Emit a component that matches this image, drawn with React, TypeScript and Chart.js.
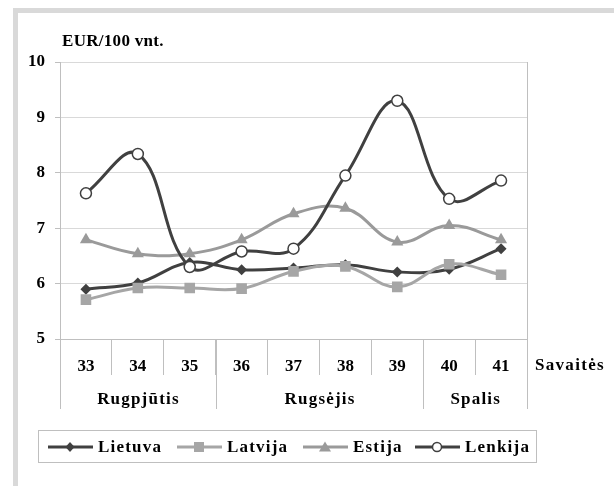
import React, { useEffect, useRef } from "react";
import { Chart, registerables } from "chart.js";

Chart.register(...registerables);

const weeks = ["33", "34", "35", "36", "37", "38", "39", "40", "41"];
const months = ["Rugpjūtis", "Rugsėjis", "Spalis"];
const monthSpans = [3, 4, 2];
const seriesNames = ["Lietuva", "Latvija", "Estija", "Lenkija"];
const lietuva = [5.9, 6.01, 6.38, 6.25, 6.28, 6.34, 6.21, 6.26, 6.63];
const latvija = [5.71, 5.92, 5.92, 5.91, 6.22, 6.31, 5.94, 6.35, 6.16];
const estija = [6.79, 6.54, 6.54, 6.79, 7.26, 7.36, 6.75, 7.05, 6.79];
const lenkija = [7.63, 8.34, 6.3, 6.58, 6.63, 7.95, 9.3, 7.53, 7.86];
const yTicks = [5, 6, 7, 8, 9, 10];
const yUnit = "EUR/100 vnt.";
const xUnit = "Savaitės";

const FONT = "'Liberation Serif', 'Times New Roman', serif";
const DARK = "#404040";
const LIGHT = "#a6a6a6";
const MID = "#9a9a9a";
const AXIS = "#bfbfbf";

const styles = [
  { color: DARK, style: "rectRot", radius: 5.5, fill: DARK },
  { color: LIGHT, style: "rect", radius: 7.5, fill: LIGHT },
  { color: MID, style: "triangle", radius: 7, fill: MID },
  { color: DARK, style: "circle", radius: 5.5, fill: "#ffffff" },
];

const decor = {
  id: "decor",
  afterDraw(chart: any) {
    const { ctx, chartArea, scales } = chart;
    const x = scales.x;
    const bottom = chartArea.bottom;
    ctx.save();
    ctx.strokeStyle = AXIS;
    ctx.lineWidth = 1;
    const bounds = [0];
    let acc = 0;
    monthSpans.forEach((s) => {
      acc += s;
      bounds.push(acc);
    });
    bounds.forEach((b) => {
      const px = Math.round(x.getPixelForValue(b - 0.5)) + 0.5;
      ctx.beginPath();
      ctx.moveTo(px, bottom);
      ctx.lineTo(px, bottom + 70);
      ctx.stroke();
    });
    const rx = Math.round(chartArea.right) + 0.5;
    ctx.beginPath();
    ctx.moveTo(rx, chartArea.top);
    ctx.lineTo(rx, bottom);
    ctx.stroke();

    ctx.fillStyle = "#000";
    ctx.font = `bold 17px ${FONT}`;
    (ctx as any).letterSpacing = "1.2px";
    ctx.textAlign = "center";
    ctx.textBaseline = "middle";
    let start = 0;
    months.forEach((m, i) => {
      const end = start + monthSpans[i];
      const a = x.getPixelForValue(start - 0.5);
      const b = x.getPixelForValue(end - 0.5);
      ctx.fillText(m, (a + b) / 2 + 0.6, bottom + 61);
      start = end;
    });
    ctx.textAlign = "left";
    (ctx as any).letterSpacing = "1.3px";
    ctx.fillText(xUnit, chartArea.right + 8, bottom + 27);

    (ctx as any).letterSpacing = "0.3px";
    ctx.textBaseline = "alphabetic";
    ctx.fillText(yUnit, chartArea.left + 2, 46);
    ctx.restore();
  },
};

function LegendMarker({ i }: { i: number }) {
  const s = styles[i];
  let marker: any = null;
  const cx = 22;
  const cy = 8;
  if (s.style === "rectRot") {
    marker = <polygon points={`${cx},${cy - 5} ${cx + 4.5},${cy} ${cx},${cy + 5} ${cx - 4.5},${cy}`} fill={s.fill} />;
  } else if (s.style === "rect") {
    marker = <rect x={cx - 5} y={cy - 5} width={10} height={10} fill={s.fill} />;
  } else if (s.style === "triangle") {
    marker = <polygon points={`${cx},${cy - 5.5} ${cx + 6},${cy + 4.5} ${cx - 6},${cy + 4.5}`} fill={s.fill} />;
  } else {
    marker = <circle cx={cx} cy={cy} r={4.5} fill="#fff" stroke={s.color} strokeWidth={1.5} />;
  }
  return (
    <svg width={45} height={16} style={{ display: "block" }}>
      <line x1={0} y1={cy} x2={45} y2={cy} stroke={s.color} strokeWidth={3} />
      {marker}
    </svg>
  );
}

export default function App() {
  const ref = useRef<HTMLCanvasElement>(null);
  useEffect(() => {
    if (!ref.current) return;
    const data = [lietuva, latvija, estija, lenkija];
    const chart = new Chart(ref.current, {
      type: "line",
      data: {
        labels: weeks,
        datasets: data.map((d, i) => ({
          label: seriesNames[i],
          data: d,
          borderColor: styles[i].color,
          backgroundColor: styles[i].fill,
          pointBackgroundColor: styles[i].fill,
          pointBorderColor: styles[i].color,
          pointBorderWidth: i === 3 ? 1.5 : 0,
          pointStyle: styles[i].style as any,
          pointRadius: styles[i].radius,
          borderWidth: 3,
          tension: 0.4,
          fill: false,
          order: 4 - i,
        })),
      },
      options: {
        animation: false,
        responsive: false,
        events: [],
        layout: { padding: { left: 0, top: 62, right: 87, bottom: 77 } },
        plugins: {
          legend: { display: false },
          tooltip: { enabled: false },
          title: { display: false },
        },
        scales: {
          x: {
            type: "category",
            offset: true,
            grid: {
              offset: true,
              drawOnChartArea: false,
              drawTicks: true,
              tickLength: 36,
              color: AXIS,
            },
            border: { color: AXIS },
            ticks: {
              padding: -19,
              autoSkip: false,
              maxRotation: 0,
              color: "#000",
              font: { family: FONT, size: 17, weight: "bold" },
            },
            afterFit: (s: any) => {
              s.height = 70;
            },
          },
          y: {
            min: 5,
            max: 10,
            afterBuildTicks: (s: any) => {
              s.ticks = yTicks.map((v) => ({ value: v }));
            },
            grid: { color: "#d9d9d9", tickColor: AXIS, tickLength: 5 },
            border: { color: AXIS },
            ticks: {
              padding: 10,
              color: "#000",
              font: { family: FONT, size: 17, weight: "bold" },
            },
            afterFit: (s: any) => {
              s.width = 60;
            },
          },
        },
      },
      plugins: [decor],
    });
    return () => chart.destroy();
  }, []);

  const legendLefts = [48, 177, 303, 415];
  return (
    <div style={{ position: "absolute", left: 0, top: 0, width: 614, height: 486, background: "#fff", overflow: "hidden" }}>
      <div
        style={{
          position: "absolute",
          left: 13,
          top: 8,
          right: 0,
          bottom: 0,
          borderTop: "5px solid #d9d9d9",
          borderLeft: "5px solid #d9d9d9",
        }}
      />
      <canvas ref={ref} width={614} height={486} style={{ position: "absolute", left: 0, top: 0, width: 614, height: 486 }} />
      <div
        style={{
          position: "absolute",
          left: 38,
          top: 430,
          width: 499,
          height: 33,
          boxSizing: "border-box",
          border: `1px solid ${AXIS}`,
        }}
      >
        {seriesNames.map((n, i) => (
          <div
            key={n}
            style={{
              position: "absolute",
              left: legendLefts[i] - 39,
              top: 0,
              height: 31,
              display: "flex",
              alignItems: "center",
              gap: 5,
              fontFamily: FONT,
              fontWeight: "bold",
              fontSize: 17,
              letterSpacing: "1.2px",
              color: "#000",
              whiteSpace: "nowrap",
            }}
          >
            <LegendMarker i={i} />
            <span>{n}</span>
          </div>
        ))}
      </div>
    </div>
  );
}
